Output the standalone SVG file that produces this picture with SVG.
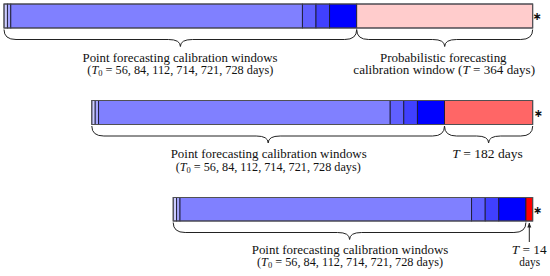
<svg xmlns="http://www.w3.org/2000/svg" width="550" height="276" viewBox="0 0 550 276">
<defs>
<style>
.seg{stroke:#1a1a30;stroke-width:0.9}
.b1{fill:#ccccff}.b2{fill:#a6a6ff}.b3{fill:#8080ff}.b4{fill:#6060ff}.b5{fill:#4040ff}.b6{fill:#0000ff}
.out{fill:none;stroke:#555;stroke-width:0.9}
.brace{fill:none;stroke:#222;stroke-width:1}
text{font-family:"Liberation Serif","Times New Roman",serif;font-size:11.5px;fill:#111;text-anchor:middle}
.it{font-style:italic}
.sub{font-size:8px}
.ast{font-family:"DejaVu Sans",sans-serif;font-size:11px;font-weight:bold}
</style>
<marker id="ah" viewBox="0 0 10 10" refX="9" refY="5" markerWidth="5" markerHeight="5" orient="auto">
<path d="M0,1 L10,5 L0,9 Z" fill="#222"/>
</marker>
</defs>

<g id="bar1">
<rect class="seg b1" x="4" y="4" width="3.4" height="24"/>
<rect class="seg b2" x="7.4" y="4" width="3.4" height="24"/>
<rect class="seg b3" x="10.8" y="4" width="291.6" height="24"/>
<rect class="seg b4" x="302.4" y="4" width="13.6" height="24"/>
<rect class="seg b5" x="316" y="4" width="13.6" height="24"/>
<rect class="seg b6" x="329.6" y="4" width="27.1" height="24"/>
<rect class="seg" x="356.7" y="4" width="176" height="24" fill="#ffcccc"/>
<rect class="out" x="4" y="4" width="528.7" height="24"/>
<text class="ast" x="537" y="20">∗</text>
<text x="180" y="61.5" textLength="195" lengthAdjust="spacingAndGlyphs">Point forecasting calibration windows</text>
<text x="180.3" y="74" textLength="186" lengthAdjust="spacingAndGlyphs">(<tspan class="it">T</tspan><tspan class="sub" dy="2">0</tspan><tspan dy="-2"> = 56, 84, 112, 714, 721, 728 days)</tspan></text>
<text x="443.3" y="61.5" textLength="126.7" lengthAdjust="spacingAndGlyphs">Probabilistic forecasting</text>
<text x="444.2" y="74" textLength="181.7" lengthAdjust="spacingAndGlyphs">calibration window (<tspan class="it">T</tspan> = 364 days)</text>
</g>

<g id="bar2">
<rect class="seg b1" x="91.8" y="100.5" width="3.4" height="24"/>
<rect class="seg b2" x="95.2" y="100.5" width="3.4" height="24"/>
<rect class="seg b3" x="98.6" y="100.5" width="291.6" height="24"/>
<rect class="seg b4" x="390.2" y="100.5" width="13.6" height="24"/>
<rect class="seg b5" x="403.8" y="100.5" width="13.6" height="24"/>
<rect class="seg b6" x="417.4" y="100.5" width="27.1" height="24"/>
<rect class="seg" x="444.5" y="100.5" width="88.2" height="24" fill="#ff6666"/>
<rect class="out" x="91.8" y="100.5" width="440.9" height="24"/>
<text class="ast" x="538.3" y="116.5">∗</text>
<text x="268.7" y="158" textLength="196" lengthAdjust="spacingAndGlyphs">Point forecasting calibration windows</text>
<text x="268.2" y="170.5" textLength="185" lengthAdjust="spacingAndGlyphs">(<tspan class="it">T</tspan><tspan class="sub" dy="2">0</tspan><tspan dy="-2"> = 56, 84, 112, 714, 721, 728 days)</tspan></text>
<text x="487.5" y="158" textLength="70.4" lengthAdjust="spacingAndGlyphs"><tspan class="it">T</tspan> = 182 days</text>
</g>

<g id="bar3">
<rect class="seg b1" x="173.2" y="197.5" width="3.4" height="23.5"/>
<rect class="seg b2" x="176.6" y="197.5" width="3.4" height="23.5"/>
<rect class="seg b3" x="180" y="197.5" width="291.6" height="23.5"/>
<rect class="seg b4" x="471.6" y="197.5" width="13.6" height="23.5"/>
<rect class="seg b5" x="485.2" y="197.5" width="13.6" height="23.5"/>
<rect class="seg b6" x="498.8" y="197.5" width="27.1" height="23.5"/>
<rect class="seg" x="525.9" y="197.5" width="6.8" height="23.5" fill="#ff0000"/>
<rect class="out" x="173.2" y="197.5" width="359.5" height="23.5"/>
<text class="ast" x="537.5" y="213.5">∗</text>
<text x="350" y="253.5" textLength="196.6" lengthAdjust="spacingAndGlyphs">Point forecasting calibration windows</text>
<text x="350" y="266" textLength="186" lengthAdjust="spacingAndGlyphs">(<tspan class="it">T</tspan><tspan class="sub" dy="2">0</tspan><tspan dy="-2"> = 56, 84, 112, 714, 721, 728 days)</tspan></text>
<text x="529.2" y="253.5" textLength="35" lengthAdjust="spacingAndGlyphs"><tspan class="it">T</tspan> = 14</text>
<text x="529.7" y="265.5" textLength="20.7" lengthAdjust="spacingAndGlyphs">days</text>
</g>

<g id="connectors">
<path class="brace" d="M4,29.5 Q4,39.5 16,39.5 L168.4,39.5 Q180.4,39.5 180.4,46.5 Q180.4,39.5 192.4,39.5 L344.7,39.5 Q356.7,39.5 356.7,29.5"/>
<path class="brace" d="M356.7,29.5 Q356.7,39.5 368.7,39.5 L432.7,39.5 Q444.7,39.5 444.7,46.5 Q444.7,39.5 456.7,39.5 L520.7,39.5 Q532.7,39.5 532.7,29.5"/>
<path class="brace" d="M91.8,126 Q91.8,136 103.8,136 L256.2,136 Q268.2,136 268.2,143 Q268.2,136 280.2,136 L432.5,136 Q444.5,136 444.5,126"/>
<path class="brace" d="M444.5,126 Q444.5,136 456.5,136 L476.6,136 Q488.6,136 488.6,143 Q488.6,136 500.6,136 L520.7,136 Q532.7,136 532.7,126"/>
<path class="brace" d="M173.2,222.5 Q173.2,232.5 185.2,232.5 L337.6,232.5 Q349.6,232.5 349.6,239.5 Q349.6,232.5 361.6,232.5 L513.9,232.5 Q525.9,232.5 525.9,222.5"/>
<line x1="529.3" y1="242" x2="529.3" y2="223" stroke="#222" stroke-width="1" marker-end="url(#ah)"/>
</g>
</svg>
